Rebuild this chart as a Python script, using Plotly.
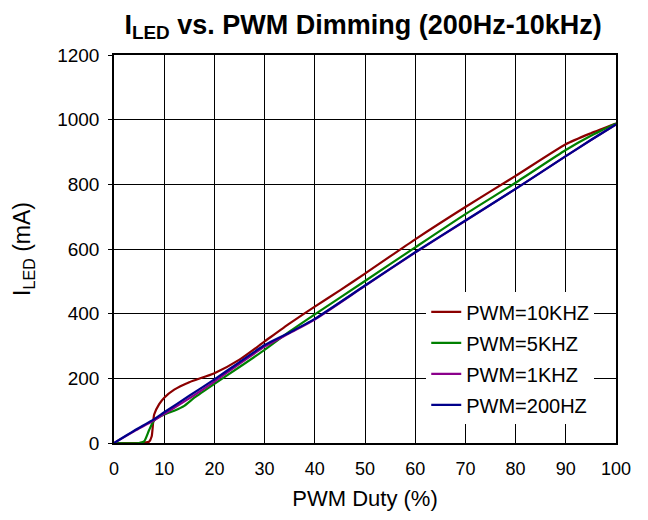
import plotly.graph_objects as go

duty_red = [0, 5, 7, 7.5, 8, 9, 10, 12, 15, 20, 25, 30, 35, 40, 45, 50, 60, 70, 80, 90, 95, 100]
i_10k = [0, 0, 4, 20, 88, 120, 140, 165, 188, 216, 258, 314, 370, 422, 472, 524, 630, 730, 826, 924, 958, 988]

duty_green = [0, 5, 6, 7, 8, 10, 12, 14, 16, 20, 25, 30, 35, 40, 50, 60, 70, 80, 90, 95, 100]
i_5k = [0, 0, 5, 40, 70, 88, 100, 115, 140, 183, 235, 288, 345, 398, 501, 605, 708, 805, 906, 950, 988]

duty_purple = [0, 4, 8, 10, 15, 20, 25, 30, 35, 40, 50, 60, 70, 80, 90, 95, 100]
i_1k = [0, 36, 70, 90, 138, 190, 245, 298, 340, 382, 486, 589, 687, 786, 887, 937, 985]

duty_blue = [0, 4, 8, 10, 15, 20, 25, 30, 35, 40, 50, 60, 70, 80, 90, 95, 100]
i_200 = [0, 38, 74, 95, 146, 197, 250, 303, 342, 384, 487, 590, 688, 786, 887, 937, 985]

names = ["PWM=10KHZ", "PWM=5KHZ", "PWM=1KHZ", "PWM=200HZ"]
colors = ["#8B0000", "#008000", "#8B008B", "#00008B"]
xs = [duty_red, duty_green, duty_purple, duty_blue]
ys = [i_10k, i_5k, i_1k, i_200]

x_ticks = list(range(0, 101, 10))
y_ticks = list(range(0, 1201, 200))

fig = go.Figure()
for n, c, x, y in zip(names, colors, xs, ys):
    fig.add_trace(go.Scatter(x=x, y=y, name=n, mode="lines", legendgroup=n,
                             line=dict(color=c, width=2.2, shape="spline", smoothing=0.6)))

font = "Liberation Sans, Arial, sans-serif"
fig.update_layout(
    width=648, height=520,
    margin=dict(l=106, r=40, t=47, b=85),
    paper_bgcolor="white", plot_bgcolor="white",
    font=dict(family=font, color="black", size=18),
    title=dict(text="<b>I<sub>LED</sub> vs. PWM Dimming (200Hz-10kHz)</b>",
               x=0.548, xanchor="center", y=0.969, yanchor="middle",
               font=dict(size=27, family=font)),
    legend=dict(x=0.622, y=0.388, xanchor="left", yanchor="top",
                bgcolor="white", borderwidth=0, font=dict(size=20),
                traceorder="grouped", tracegroupgap=2),
    showlegend=True,
)
fig.update_xaxes(range=[0, 100], tickvals=x_ticks, showgrid=True, gridcolor="black", gridwidth=1.3,
                 showline=True, linecolor="black", linewidth=1.5, mirror=True,
                 ticks="", tickfont=dict(size=18), zeroline=False, ticklabelstandoff=9,
                 title=dict(text="PWM Duty (%)", font=dict(size=22), standoff=12))
fig.update_yaxes(range=[0, 1200], tickvals=y_ticks, showgrid=True, gridcolor="black", gridwidth=1.3,
                 showline=True, linecolor="black", linewidth=1.5, mirror=True,
                 ticks="outside", ticklen=4, tickcolor="black", tickfont=dict(size=19), zeroline=False,
                 ticklabelstandoff=5,
                 title=dict(text="I<sub>LED</sub> (mA)", font=dict(size=23), standoff=20))

fig.write_html("out.html")
